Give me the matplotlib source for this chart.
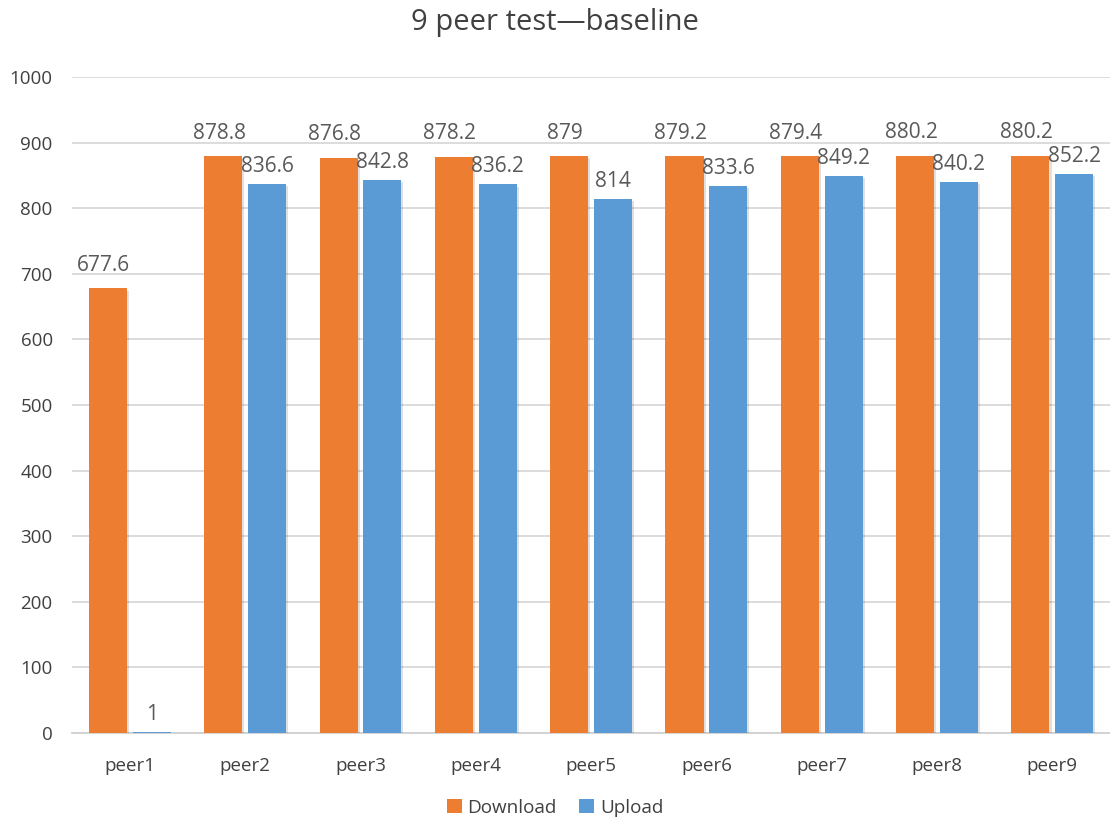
import numpy as np
import matplotlib.pyplot as plt
import matplotlib.patheffects as pe

plt.rcParams['font.family'] = ['Open Sans', 'DejaVu Sans']

peers = ['peer1', 'peer2', 'peer3', 'peer4', 'peer5', 'peer6', 'peer7', 'peer8', 'peer9']
download = [677.6, 878.8, 876.8, 878.2, 879, 879.2, 879.4, 880.2, 880.2]
upload = [1, 836.6, 842.8, 836.2, 814, 833.6, 849.2, 840.2, 852.2]

orange = '#ED7D31'
blue = '#5B9BD5'
text_col = '#595959'

fig = plt.figure(figsize=(11.1, 8.19), dpi=100)
ax = fig.add_axes([0.065, 0.105, 0.935, 0.801])

x = np.arange(len(peers))
w = 0.33
gap = 0.05
shadow = [pe.SimplePatchShadow(offset=(1.5, -1.5), shadow_rgbFace='k', alpha=0.12), pe.Normal()]

b1 = ax.bar(x - (w + gap) / 2, download, w, color=orange, label='Download', zorder=3)
b2 = ax.bar(x + (w + gap) / 2, upload, w, color=blue, label='Upload', zorder=3)
for b in list(b1) + list(b2):
    b.set_path_effects(shadow)

def fmt(v):
    return f'{v:g}'

for xi, v in zip(x - (w + gap) / 2, download):
    ax.annotate(fmt(v), (xi, v), xytext=(-3, 9), textcoords='offset points',
                ha='center', va='bottom', fontsize=15, color=text_col)
for xi, v in zip(x + (w + gap) / 2, upload):
    ax.annotate(fmt(v), (xi, v), xytext=(0, 5), textcoords='offset points',
                ha='center', va='bottom', fontsize=15, color=text_col)

ax.set_xlim(-0.5, len(peers) - 0.5)
ax.set_ylim(0, 1000)
ax.set_yticks(np.arange(0, 1001, 100))
ax.set_xticks(x)
ax.set_xticklabels(peers)
ax.tick_params(axis='both', length=0, labelsize=13.5, colors=text_col)
ax.tick_params(axis='x', pad=17)
ax.tick_params(axis='y', pad=14)
for lbl in ax.get_xticklabels() + ax.get_yticklabels():
    lbl.set_color('#404040')

ax.grid(axis='y', color='#d9d9d9', linewidth=1.3, zorder=0)
ax.set_axisbelow(True)
for s in ['top', 'right', 'left']:
    ax.spines[s].set_visible(False)
ax.spines['bottom'].set_color('#d0d0d0')
ax.spines['bottom'].set_linewidth(1.3)

fig.suptitle('9 peer test\u2014baseline', y=0.99, fontsize=21, color='#404040')

leg = fig.legend(loc='lower center', bbox_to_anchor=(0.5, -0.018), ncol=2, frameon=False,
                 fontsize=13.6, handlelength=0.8, handleheight=0.8, handletextpad=0.3,
                 columnspacing=1.2, labelcolor='#404040')
for h in leg.legend_handles:
    h.set_path_effects([])

fig.savefig('out.png', dpi=100)
